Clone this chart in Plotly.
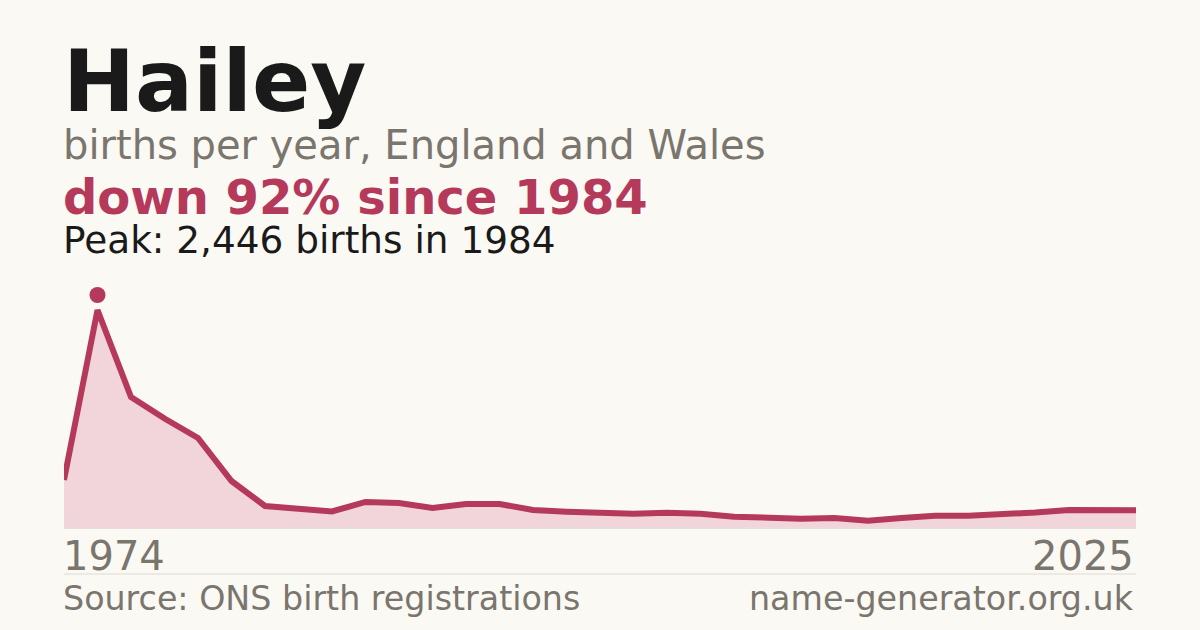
import plotly.graph_objects as go

# ONS publishes 1974/1984/1994 then every year from 1996
years = [1974, 1984, 1994, 1996, 1997, 1998, 1999, 2000, 2001, 2002, 2003,
         2004, 2005, 2006, 2007, 2008, 2009, 2010, 2011, 2012, 2013, 2014,
         2015, 2016, 2017, 2018, 2019, 2020, 2021, 2022, 2023, 2024, 2025]
births = [539, 2446, 1470, 1229, 1010, 527, 247, 219, 185, 292, 281,
          224, 269, 269, 202, 183, 172, 160, 172, 160, 127, 116,
          104, 112, 82, 112, 138, 138, 151, 174, 202, 194, 199]

name = "Hailey"
subtitle = "births per year, England and Wales"
source_text = "Source: ONS birth registrations"
site_text = "name-generator.org.uk"

W, H = 1200, 630
BG = "#faf9f4"
RED = "#b5395a"
GREY = "#7a756d"
INK = "#1a1a1a"
FONT = "DejaVu Sans"

peak = max(births)
peak_i = births.index(peak)
peak_year = years[peak_i]
change = round((1 - births[-1] / peak) * 100)
labels = [str(y) for y in years]


def py(px):
    # pixel row -> paper y (margins are zero, so paper == whole image)
    return 1 - px / H


fig = go.Figure()
fig.add_trace(
    go.Scatter(
        x=labels,
        y=births,
        mode="lines",
        line={"color": RED, "width": 6},
        fill="tozeroy",
        fillcolor="#f1d5db",
        hoverinfo="skip",
    )
)

L, R = 64 / W, 1136 / W
TL = 61 / W  # annotation boxes carry a few px of padding
annotations = [
    dict(text=f"<b>{name}</b>", x=TL, y=py(81), font={"size": 86, "color": INK}),
    dict(text=subtitle, x=TL, y=py(145), font={"size": 40, "color": GREY}),
    dict(text=f"<b>down {change}% since {peak_year}</b>", x=TL, y=py(197),
         font={"size": 48, "color": RED}),
    dict(text=f"Peak: {peak:,} births in {peak_year}", x=TL, y=py(240),
         font={"size": 37.4, "color": INK}),
    dict(text=labels[0], x=TL, y=py(556), font={"size": 40, "color": GREY}),
    dict(text=labels[-1], x=R, y=py(556), xanchor="right", font={"size": 40, "color": GREY}),
    dict(text=source_text, x=TL, y=py(598), font={"size": 33.3, "color": GREY}),
    dict(text=site_text, x=R, y=py(598), xanchor="right", font={"size": 33.3, "color": GREY}),
]
for a in annotations:
    a.setdefault("xanchor", "left")
    a.update(xref="paper", yref="paper", yanchor="middle", showarrow=False)

fig.update_layout(
    width=W,
    height=H,
    paper_bgcolor=BG,
    plot_bgcolor=BG,
    margin={"l": 0, "r": 0, "t": 0, "b": 0},
    showlegend=False,
    font={"family": FONT},
    annotations=annotations,
    xaxis={"type": "category", "range": [0, len(labels) - 1], "visible": False,
           "domain": [L, R]},
    # zero sits at px 528, peak at px 310; top extended so the dot isn't clipped
    yaxis={"range": [-peak * 2 / 218, peak * 250 / 218], "visible": False,
           "domain": [py(530), py(278)]},
    shapes=[
        dict(type="line", xref="paper", yref="paper", x0=L, x1=R, y0=py(574), y1=py(574),
             line={"color": "#dedad3", "width": 1}),
        dict(type="line", xref="paper", yref="y", x0=L, x1=R, y0=0, y1=0,
             line={"color": "#eadcdd", "width": 2}),
        # peak dot, floating just above the line's apex
        dict(type="circle", xref="x", yref="y", xsizemode="pixel", ysizemode="pixel",
             xanchor=peak_i, yanchor=peak, x0=-8, x1=8, y0=7, y1=23,
             fillcolor=RED, line={"width": 0}),
    ],
)

fig.write_html("out.html", config={"displayModeBar": False},
               post_script="document.body.style.margin='0';")
